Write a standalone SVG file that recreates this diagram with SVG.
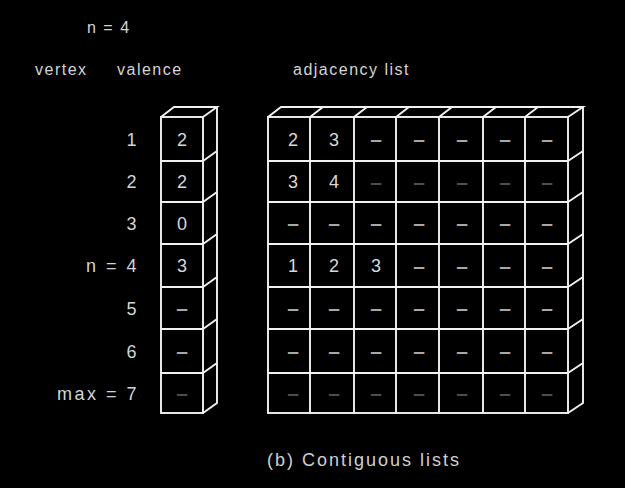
<svg xmlns="http://www.w3.org/2000/svg" width="625" height="488" viewBox="0 0 625 488">
<style>
.ln{fill:none;stroke:#f2f2f2;stroke-width:1.9;stroke-linejoin:miter}
.hd{font-family:"Liberation Sans",Arial,sans-serif;font-size:16px;letter-spacing:1.5px;fill:#d4d4d4}
.rl{font-family:"Liberation Sans",Arial,sans-serif;font-size:18px;letter-spacing:2.5px;fill:#d4d4d4;text-anchor:end}
.d{font-family:"Liberation Sans",Arial,sans-serif;font-size:18px;fill:#d8d8d8;text-anchor:middle}
.m{font-family:"Liberation Sans",Arial,sans-serif;font-size:21px;font-weight:bold;fill:#a8a8a8;text-anchor:middle}
.dm{font-family:"Liberation Sans",Arial,sans-serif;font-size:21px;font-weight:bold;fill:#4e4e4e;text-anchor:middle}
.cap{font-family:"Liberation Sans",Arial,sans-serif;font-size:18px;letter-spacing:2px;fill:#d0d0d0}
</style>
<rect width="625" height="488" fill="#000"/>

<g id="headers">
<text class="hd" x="87" y="33">n = 4</text>
<text class="hd" x="35" y="75">vertex</text>
<text class="hd" x="117" y="75">valence</text>
<text class="hd" x="293" y="75">adjacency list</text>
</g>

<g id="row-labels">
<text class="rl" x="139" y="145.5">1</text>
<text class="rl" x="139" y="188">2</text>
<text class="rl" x="139" y="229.5">3</text>
<text class="rl" x="139" y="272">n = 4</text>
<text class="rl" x="139" y="314.5">5</text>
<text class="rl" x="139" y="357.5">6</text>
<text class="rl" x="139" y="399.5">max = 7</text>
</g>

<g id="valence-column">
<rect class="ln" x="161" y="117" width="42" height="296"/>
<path class="ln" d="M161 117 L174 107 L217 107 L203 117 M217 107 L217 403 L203 413 M203 161 L217 151 M203 202 L217 192 M203 244 L217 234 M203 287 L217 277 M203 329 L217 319 M203 373 L217 363 M161 161 H203 M161 202 H203 M161 244 H203 M161 287 H203 M161 329 H203 M161 373 H203"/>
<text class="d" x="182" y="145.5">2</text>
<text class="d" x="182" y="188">2</text>
<text class="d" x="182" y="229.5">0</text>
<text class="d" x="182" y="272">3</text>
<text class="m" x="182" y="315">–</text>
<text class="m" x="182" y="358">–</text>
<text class="dm" x="182" y="400">–</text>
</g>

<g id="adjacency-grid">
<rect class="ln" x="268" y="117" width="300" height="296"/>
<path class="ln" d="M268 117 L281 107 L583 107 L568 117 M583 107 L583 403 L568 413 M568 161 L583 151 M568 202 L583 192 M568 244 L583 234 M568 287 L583 277 M568 329 L583 319 M568 373 L583 363 M268 161 H568 M268 202 H568 M268 244 H568 M268 287 H568 M268 329 H568 M268 373 H568 M310 117 V413 M354 117 V413 M396 117 V413 M439 117 V413 M483 117 V413 M525 117 V413 M310 117 L323 107 M354 117 L367 107 M396 117 L409 107 M439 117 L452 107 M483 117 L496 107 M525 117 L538 107"/>
<!-- row 1 -->
<text class="d" x="293" y="145.5">2</text><text class="d" x="334" y="145.5">3</text>
<text class="m" x="376" y="146">–</text><text class="m" x="419" y="146">–</text><text class="m" x="462" y="146">–</text><text class="m" x="505" y="146">–</text><text class="m" x="547" y="146">–</text>
<!-- row 2 -->
<text class="d" x="293" y="188">3</text><text class="d" x="334" y="188">4</text>
<text class="dm" x="376" y="188.5">–</text><text class="dm" x="419" y="188.5">–</text><text class="dm" x="462" y="188.5">–</text><text class="dm" x="505" y="188.5">–</text><text class="dm" x="547" y="188.5">–</text>
<!-- row 3 -->
<text class="m" x="293" y="230">–</text><text class="m" x="334" y="230">–</text><text class="m" x="376" y="230">–</text><text class="m" x="419" y="230">–</text><text class="m" x="462" y="230">–</text><text class="m" x="505" y="230">–</text><text class="m" x="547" y="230">–</text>
<!-- row 4 -->
<text class="d" x="293" y="272">1</text><text class="d" x="334" y="272">2</text><text class="d" x="376" y="272">3</text>
<text class="m" x="419" y="272.5">–</text><text class="m" x="462" y="272.5">–</text><text class="m" x="505" y="272.5">–</text><text class="m" x="547" y="272.5">–</text>
<!-- row 5 -->
<text class="m" x="293" y="315">–</text><text class="m" x="334" y="315">–</text><text class="m" x="376" y="315">–</text><text class="m" x="419" y="315">–</text><text class="m" x="462" y="315">–</text><text class="m" x="505" y="315">–</text><text class="m" x="547" y="315">–</text>
<!-- row 6 -->
<text class="m" x="293" y="358">–</text><text class="m" x="334" y="358">–</text><text class="m" x="376" y="358">–</text><text class="m" x="419" y="358">–</text><text class="m" x="462" y="358">–</text><text class="m" x="505" y="358">–</text><text class="m" x="547" y="358">–</text>
<!-- row 7 -->
<text class="dm" x="293" y="400">–</text><text class="dm" x="334" y="400">–</text><text class="dm" x="376" y="400">–</text><text class="dm" x="419" y="400">–</text><text class="dm" x="462" y="400">–</text><text class="dm" x="505" y="400">–</text><text class="dm" x="547" y="400">–</text>
</g>

<g id="connectors"></g>

<g id="caption">
<text class="cap" x="267" y="466">(b) Contiguous lists</text>
</g>
</svg>
